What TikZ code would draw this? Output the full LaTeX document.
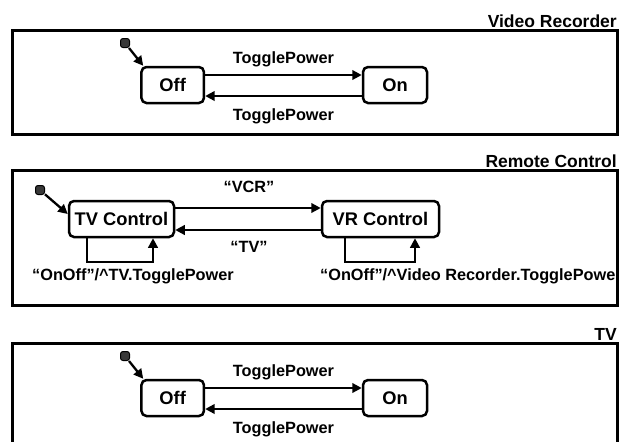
\documentclass[tikz,border=0pt]{standalone}
\usepackage{fontspec}
\setmainfont{Liberation Sans}
\usetikzlibrary{arrows.meta}
\begin{document}
\begin{tikzpicture}[x=1pt,y=-1pt,
  panel/.style={draw, line width=3pt, inner sep=0pt, outer sep=0pt},
  state/.style={draw, line width=2.5pt, rounded corners=5pt, inner sep=0pt,
    minimum height=36pt, font=\bfseries\fontsize{18.3}{20}\selectfont},
  arr/.style={line width=2.3pt, -{Triangle[length=9.5pt,width=9.5pt]}},
  initdot/.style={draw, fill=black!78, line width=1pt, rounded corners=2.5pt,
    minimum size=9pt, inner sep=0pt},
  lbl/.style={inner sep=0pt, font=\bfseries\fontsize{16.3}{18}\selectfont},
  title/.style={inner sep=0pt, anchor=base east, font=\bfseries\fontsize{17.5}{20}\selectfont}]
\useasboundingbox (0,0) rectangle (622,442);

% ---------- Video Recorder ----------
\node[title] (t1) at (617,27) {Video Recorder};
\node[state, minimum width=62.5pt] (off1) at (172.7,85) {Off};
\node[state, minimum width=64pt] (on1) at (395,85) {On};
\node[initdot] (i1) at (125,43) {};
\draw[arr] (i1) -- ([xshift=3pt]off1.north west);
\draw[arr] ([yshift=10pt]off1.east) -- ([yshift=10pt]on1.west);
\draw[arr] ([yshift=-11pt]on1.west) -- ([yshift=-11pt]off1.east);
\node[lbl, anchor=base] (l1a) at (283.5,63) {TogglePower};
\node[lbl, anchor=base] (l1b) at (283.5,120) {TogglePower};

% ---------- Remote Control ----------
\node[title] (t2) at (617,167) {Remote Control};
\node[state, minimum width=105pt] (tvc) at (121.5,219) {TV Control};
\node[state, minimum width=117pt] (vrc) at (380.5,219) {VR Control};
\node[initdot] (i2) at (40,190) {};
\draw[arr] (i2) -- ([yshift=5pt]tvc.west);
\draw[arr] ([yshift=11pt]tvc.east) -- ([yshift=11pt]vrc.west);
\draw[arr] ([yshift=-11pt]vrc.west) -- ([yshift=-11pt]tvc.east);
\node[lbl, anchor=base] (l2a) at (249,192) {“VCR”};
\node[lbl, anchor=base] (l2b) at (249,252) {“TV”};
\draw[arr] ([xshift=-34.5pt]tvc.south) -- ++(0,24) -| ([xshift=31.5pt]tvc.south);
\draw[arr] ([xshift=-35.5pt]vrc.south) -- ++(0,24) -| ([xshift=34.5pt]vrc.south);
\node[lbl, anchor=base west] (l2c) at (32,280) {“OnOff”/\textasciicircum TV.TogglePower};
\begin{scope}
  \clip (12,170) rectangle (617,305);
  \node[lbl, anchor=base west] (l2d) at (320,280) {“OnOff”/\textasciicircum Video Recorder.TogglePower};
\end{scope}

% ---------- TV ----------
\node[title] (t3) at (617,340) {TV};
\node[state, minimum width=62.5pt] (off3) at (172.7,398) {Off};
\node[state, minimum width=64pt] (on3) at (395,398) {On};
\node[initdot] (i3) at (125,356) {};
\draw[arr] (i3) -- ([xshift=3pt]off3.north west);
\draw[arr] ([yshift=10pt]off3.east) -- ([yshift=10pt]on3.west);
\draw[arr] ([yshift=-11pt]on3.west) -- ([yshift=-11pt]off3.east);
\node[lbl, anchor=base] (l3a) at (283.5,376) {TogglePower};
\node[lbl, anchor=base] (l3b) at (283.5,433) {TogglePower};

% ---------- panels ----------
\node[panel, minimum width=605pt, minimum height=104pt] (p1) at (314.5,82) {};
\node[panel, minimum width=605pt, minimum height=135pt] (p2) at (314.5,237.5) {};
\node[panel, minimum width=605pt, minimum height=117pt] (p3) at (314.5,401.5) {};
\end{tikzpicture}
\end{document}
